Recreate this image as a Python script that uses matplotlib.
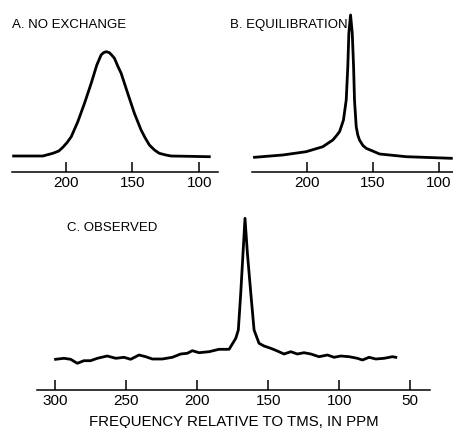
import matplotlib
matplotlib.use('Agg')
import matplotlib.pyplot as plt

plt.rcParams['font.family'] = ['Liberation Sans', 'DejaVu Sans']

# A. no exchange (ppm, intensity in arbitrary units)
ppm_a = [238.8, 216.9, 209.5, 205.0, 202.0, 198.8, 195.7, 190.8, 185.8, 180.8,
         176.6, 175.0, 173.4, 171.6, 169.6, 167.2, 165.5, 163.4, 160.8, 158.4,
         153.5, 148.5, 143.5, 140.4, 137.3, 133.5, 129.9, 125.0, 121.1, 92.5]
int_a = [0, 0, 2.7, 5, 8.7, 13.5, 19.3, 34.3, 52.7, 72.7,
         91, 96, 101, 103.3, 104.3, 103.3, 101, 97.7, 89.5, 82.7,
         62.7, 42.7, 26, 18, 11, 6, 2.7, 1, 0, -0.7]

# B. equilibration
ppm_b = [240.1, 218.6, 200.8, 188.1, 180.5, 177.9, 175.4, 173.9, 172.4, 170.3,
         169.1, 168.3, 167.0, 165.7, 164.7, 164.0, 162.7, 161.5, 160.2, 157.6,
         155.1, 144.9, 124.6, 90.3]
int_b = [-1.3, 1, 4.3, 9.3, 16, 20, 24.3, 30, 36, 56,
         89.3, 122.7, 141, 122.7, 89.3, 56, 29.3, 21, 16, 10.5,
         7.7, 2, -0.7, -2.3]

# C. observed
ppm_c = [299.9, 294.0, 289.3, 284.6, 279.9, 275.2, 270.5, 263.5, 257.5, 251.7,
         247.0, 241.1, 236.4, 231.7, 224.7, 217.6, 211.7, 207.1, 203.5, 198.8,
         191.7, 184.7, 177.6, 172.9, 171.1, 169.4, 167.8, 166.4, 164.7, 162.3,
         160.0, 156.5, 153.0, 148.2, 143.6, 138.9, 134.1, 129.5, 124.8, 120.0,
         114.2, 108.3, 103.6, 98.9, 93.0, 87.2, 83.6, 78.9, 74.2, 68.3,
         62.5, 60.1]
int_c = [-0.3, 0.7, -0.3, -4.3, -1.7, -1.7, 0.7, 3, 0.7, 1.7,
         -0.3, 4, 2.3, 0, 0, 1.7, 5, 5.7, 8.3, 6.3,
         7.3, 9.7, 9.7, 20.7, 29, 65.7, 105.7, 140.7, 105.7, 65.7,
         29, 15.7, 13, 10.7, 8, 5, 7.3, 5, 6.3, 5,
         2.3, 4, 1.7, 3, 2.3, 0.7, -1, 1.7, 0, 0.7,
         2.3, 1.7]

ticks_top = [200, 150, 100]
ticks_bottom = [300, 250, 200, 150, 100, 50]

W, H = 453, 428
fig = plt.figure(figsize=(W / 100, H / 100), dpi=100)


def make_axes(x0, y_axis, width, height):
    # pixel box -> figure fraction
    return fig.add_axes([x0 / W, (H - y_axis) / H, width / W, height / H])


def style(ax, xlim, ylim, ticks):
    ax.set_xlim(*xlim)
    ax.set_ylim(*ylim)
    for s in ['top', 'left', 'right']:
        ax.spines[s].set_visible(False)
    ax.spines['bottom'].set_linewidth(1.1)
    ax.set_yticks([])
    ax.set_xticks(ticks)
    ax.set_xticklabels([str(t) for t in ticks])
    ax.tick_params(axis='x', direction='in', length=7, width=1.1,
                   pad=3, labelsize=11)
    ax.patch.set_alpha(0)


ax_a = make_axes(12, 172, 206, 162)
ax_a.plot(ppm_a, int_a, color='black', lw=2.0, solid_joinstyle='round')
style(ax_a, (240, 86), (-16, 146), ticks_top)

ax_b = make_axes(252, 172, 205, 162)
ax_b.plot(ppm_b, int_b, color='black', lw=2.0, clip_on=False, solid_joinstyle='round')
style(ax_b, (242, 86), (-16, 146), ticks_top)

ax_c = make_axes(37, 390, 393, 180)
ax_c.plot(ppm_c, int_c, color='black', lw=2.0, solid_joinstyle='round')
style(ax_c, (313, 36), (-31, 149), ticks_bottom)

fig.text(12 / W, 1 - 25 / H, 'A. NO EXCHANGE', fontsize=9.5, va='center', ha='left')
fig.text(230 / W, 1 - 25 / H, 'B. EQUILIBRATION', fontsize=9.5, va='center', ha='left')
fig.text(67 / W, 1 - 228 / H, 'C. OBSERVED', fontsize=9.5, va='center', ha='left')
fig.text(234 / W, 1 - 422 / H, 'FREQUENCY RELATIVE TO TMS, IN PPM',
         fontsize=10.8, va='center', ha='center')

fig.savefig('out.png', dpi=100, facecolor='white')
